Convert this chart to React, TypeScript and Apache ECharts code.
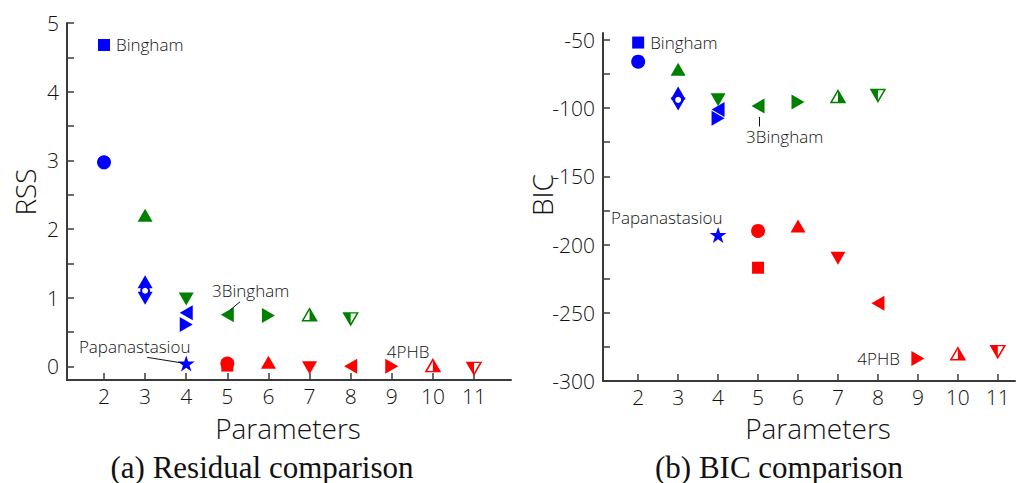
import React, { useEffect, useRef } from "react";
import * as echarts from "echarts";

// ---------- data ----------
const paramTicks = [2, 3, 4, 5, 6, 7, 8, 9, 10, 11];
const rssLabels = [0, 1, 2, 3, 4, 5];
const rssTicks = [0, 0.5, 1, 1.5, 2, 2.5, 3, 3.5, 4, 4.5, 5];
const bicLabels = [-300, -250, -200, -150, -100, -50];
const bicTicks = [-300, -275, -250, -225, -200, -175, -150, -125, -100, -75, -50];

// one entry per fitted model
const modelParams = [2, 2, 3, 3, 3, 4, 4, 4, 3, 4, 5, 6, 7, 8, 5, 5, 6, 7, 8, 9, 10, 11];
const modelRSS = [4.68, 2.97, 1.23, 0.99, 1.1, 0.78, 0.61, 0.04, 2.2, 0.98, 0.75, 0.74, 0.75, 0.69, 0.01, 0.04, 0.06, -0.02, 0.0, 0.0, 0.01, -0.03];
const modelBIC = [-52, -66, -89, -97, -94, -101, -107.5, -193, -71.5, -94, -98.5, -95.5, -91.5, -90.8, -217, -190, -186.5, -210, -243, -283.5, -280, -278.5];

// ---------- styles ----------
const BLUE = "#0000ff";
const GREEN = "#008000";
const RED = "#ff0000";
const FONT = "'Open Sans', 'Noto Sans', sans-serif";
const TEXT = "#111";
const AXIS = "#3a3a3a";

const SYM: Record<string, string> = {
  up: "path://M5,0L10,9L0,9Z",
  down: "path://M0,0L10,0L5,9Z",
  left: "path://M9,0L0,5L9,10Z",
  right: "path://M0,0L9,5L0,10Z",
  halfUpR: "path://M0,0L5,9L0,9Z",
  halfDownL: "path://M0,0L5,0L5,9Z",
  star: "path://M50,0L61.2,34.5L97.6,34.5L68.2,55.9L79.4,90.5L50,69.1L20.6,90.5L31.8,55.9L2.4,34.5L38.8,34.5Z",
};

const modelShape = [
  "rect", "circle", "up", "down", "ring", "left", "right", "star",
  "up", "down", "left", "right", "halfUp", "halfDown",
  "rect", "circle", "up", "down", "left", "right", "halfUp", "halfDown",
];
const modelColor = [
  BLUE, BLUE, BLUE, BLUE, BLUE, BLUE, BLUE, BLUE,
  GREEN, GREEN, GREEN, GREEN, GREEN, GREEN,
  RED, RED, RED, RED, RED, RED, RED, RED,
];

// annotations (data coordinates)
const leftNotes = [
  { text: "3Bingham", x: 4.63, y: 1.1, pos: "right" },
  { text: "Papanastasiou", x: 1.39, y: 0.29, pos: "right" },
  { text: "4PHB", x: 8.88, y: 0.22, pos: "right" },
];
const leftPointers = [
  [[5.31, 0.94], [5.07, 0.82]],
  [[3.05, 0.13], [3.88, 0.05]],
];
const rightNotes = [
  { text: "3Bingham", x: 4.7, y: -121, pos: "right" },
  { text: "Papanastasiou", x: 1.32, y: -180.3, pos: "right" },
  { text: "4PHB", x: 8.55, y: -283.4, pos: "left" },
];
const rightPointers = [[[5.03, -106.5], [5.03, -113.5]]];

const noteText = { fontFamily: FONT, fontSize: 17, fontWeight: 300, color: TEXT, opacity: 1 };

function markerSeries(i: number, grid: number, yVal: number): any[] {
  const shape = modelShape[i];
  const color = modelColor[i];
  const base = {
    type: "scatter",
    xAxisIndex: grid,
    yAxisIndex: grid,
    data: [[modelParams[i], yVal]],
    silent: true,
    z: 3,
  };
  const label =
    i === 0
      ? { show: true, position: "right", distance: 6, formatter: "Bingham", ...noteText }
      : { show: false };
  const fill = { color, opacity: 1 };
  if (shape === "rect") return [{ ...base, symbol: "rect", symbolSize: 12, itemStyle: fill, label }];
  if (shape === "circle") return [{ ...base, symbol: "circle", symbolSize: 14, itemStyle: fill, label }];
  if (shape === "ring")
    return [{ ...base, symbol: "circle", symbolSize: 8, itemStyle: { color: "#fff", borderColor: color, borderWidth: 2, opacity: 1 }, z: 4 }];
  if (shape === "star") return [{ ...base, symbol: SYM.star, symbolSize: [17, 16], itemStyle: fill }];
  if (shape === "up" || shape === "down")
    return [{ ...base, symbol: SYM[shape], symbolSize: [15, 13], itemStyle: fill }];
  if (shape === "left" || shape === "right")
    return [{ ...base, symbol: SYM[shape], symbolSize: [13, 15], itemStyle: fill }];
  if (shape === "halfUp")
    return [
      { ...base, symbol: SYM.up, symbolSize: [14, 12], itemStyle: { color: "#fff", borderColor: color, borderWidth: 1.5, opacity: 1 } },
      { ...base, symbol: SYM.halfUpR, symbolSize: [7, 12], symbolOffset: [3.5, 0], itemStyle: fill },
    ];
  if (shape === "halfDown")
    return [
      { ...base, symbol: SYM.down, symbolSize: [14, 12], itemStyle: { color: "#fff", borderColor: color, borderWidth: 1.5, opacity: 1 } },
      { ...base, symbol: SYM.halfDownL, symbolSize: [7, 12], symbolOffset: [-3.5, 0], itemStyle: fill },
    ];
  return [];
}

function noteSeries(grid: number, notes: any[], pointers: number[][][]) {
  return {
    type: "scatter",
    xAxisIndex: grid,
    yAxisIndex: grid,
    symbolSize: 0,
    silent: true,
    z: 5,
    itemStyle: { opacity: 1 },
    data: notes.map((n) => ({
      value: [n.x, n.y],
      label: { show: true, position: n.pos, distance: 0, formatter: n.text, ...noteText },
    })),
    markLine: {
      silent: true,
      symbol: ["none", "none"],
      label: { show: false },
      lineStyle: { color: TEXT, width: 1, type: "solid", opacity: 1 },
      data: pointers.map((p) => [{ coord: p[0] }, { coord: p[1] }]),
    },
  };
}

function xAxisFor(grid: number, min: number, max: number) {
  return {
    type: "value",
    gridIndex: grid,
    min,
    max,
    axisLine: { show: true, onZero: false, lineStyle: { color: AXIS, width: 2 } },
    axisTick: { show: true, inside: true, length: 7, customValues: paramTicks, lineStyle: { color: AXIS, width: 1.5 } },
    axisLabel: { customValues: paramTicks, fontFamily: FONT, fontWeight: 300, fontSize: 21, color: TEXT, margin: 5, lineHeight: 21 },
    splitLine: { show: false },
  };
}

function yAxisFor(grid: number, min: number, max: number, labels: number[], ticks: number[]) {
  return {
    type: "value",
    gridIndex: grid,
    min,
    max,
    axisLine: { show: true, onZero: false, lineStyle: { color: AXIS, width: 2 } },
    axisTick: { show: true, inside: true, length: 7, customValues: ticks, lineStyle: { color: AXIS, width: 1.5 } },
    axisLabel: { customValues: labels, fontFamily: FONT, fontWeight: 300, fontSize: 21, color: TEXT, margin: 8 },
    splitLine: { show: false },
  };
}

export default function App() {
  const ref = useRef<HTMLDivElement>(null);
  useEffect(() => {
    if (!ref.current) return;
    const chart = echarts.init(ref.current, null, { renderer: "svg" });
    const series: any[] = [];
    modelParams.forEach((_, i) => series.push(...markerSeries(i, 0, modelRSS[i])));
    modelParams.forEach((_, i) => series.push(...markerSeries(i, 1, modelBIC[i])));
    series.push(noteSeries(0, leftNotes, leftPointers));
    series.push(noteSeries(1, rightNotes, rightPointers));

    const titleStyle = { fontFamily: FONT, fontWeight: 300, fontSize: 28, lineHeight: 28, fill: TEXT, textAlign: "center", textVerticalAlign: "middle" };
    const capStyle = { fontFamily: "'Liberation Serif', serif", fontSize: 31, lineHeight: 31, fill: "#111", textAlign: "center", textVerticalAlign: "middle" };

    chart.setOption({
      animation: false,
      backgroundColor: "#fff",
      grid: [
        { left: 67, top: 23, width: 444, height: 357 },
        { left: 603, top: 33, width: 412, height: 348 },
      ],
      xAxis: [xAxisFor(0, 1.1, 11.9), xAxisFor(1, 1.12, 11.43)],
      yAxis: [yAxisFor(0, -0.2, 5, rssLabels, rssTicks), yAxisFor(1, -300, -45, bicLabels, bicTicks)],
      series,
      graphic: [
        { type: "text", x: 25, y: 192, rotation: Math.PI / 2, style: { ...titleStyle, text: "RSS" } },
        { type: "text", x: 542, y: 195, rotation: Math.PI / 2, style: { ...titleStyle, text: "BIC" } },
        { type: "text", x: 288, y: 428, style: { ...titleStyle, text: "Parameters" } },
        { type: "text", x: 818, y: 428, style: { ...titleStyle, text: "Parameters" } },
        { type: "text", x: 262, y: 467, style: { ...capStyle, text: "(a) Residual comparison" } },
        { type: "text", x: 779, y: 467, style: { ...capStyle, text: "(b) BIC comparison" } },
      ],
    });
    return () => chart.dispose();
  }, []);
  return <div ref={ref} style={{ position: "fixed", left: 0, top: 0, width: 1026, height: 483 }} />;
}
